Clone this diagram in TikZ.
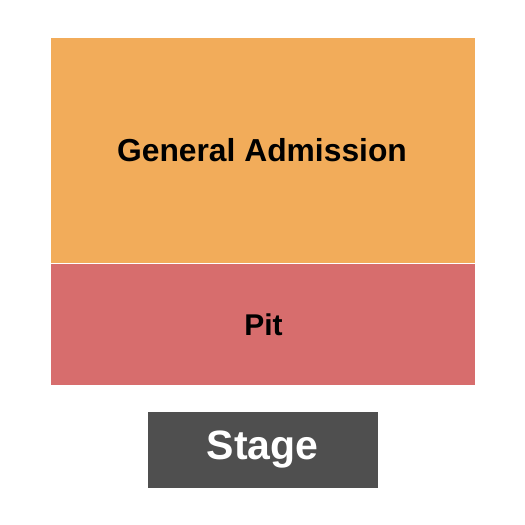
\documentclass[tikz,border=0pt]{standalone}
\usepackage{fontspec}
\setmainfont{Liberation Sans}
\definecolor{gaorange}{HTML}{F2AC5A}
\definecolor{pitred}{HTML}{D76D6D}
\definecolor{stagegrey}{HTML}{4F4F4F}
\begin{document}
\begin{tikzpicture}[x=1pt, y=-1pt,
    zonelabel/.style={font=\bfseries\fontsize{30}{36}\selectfont, inner sep=0pt}] % seating chart
  \useasboundingbox (0,0) rectangle (525,525);
  \fill[gaorange] (51,38) rectangle (475,263.3);
  \fill[pitred] (51,264.2) rectangle (475,384.5);
  \fill[stagegrey] (148,412) rectangle (378,488);
  \node[zonelabel, font=\bfseries\fontsize{31.8}{38}\selectfont] (ga) at (262,150) {General Admission};
  \node[zonelabel] (pit) at (263.5,324.5) {Pit};
  \node[zonelabel, text=white, font=\bfseries\fontsize{41}{48}\selectfont] (stage) at (262.5,449.5) {Stage};
\end{tikzpicture}
\end{document}
